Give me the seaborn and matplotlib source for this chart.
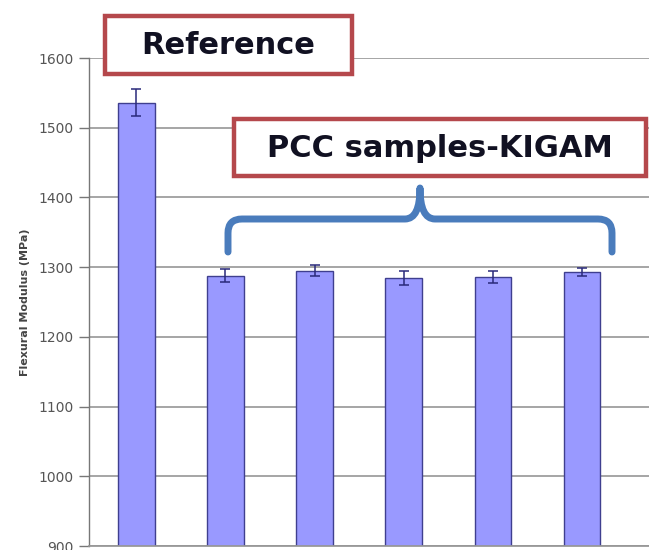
import numpy as np
import pandas as pd
import matplotlib
matplotlib.use("Agg")
import matplotlib.pyplot as plt
import seaborn as sns
from matplotlib.path import Path
from matplotlib.patches import PathPatch, Rectangle

# --- data --- #
samples = ["Reference", "PCC-1", "PCC-2", "PCC-3", "PCC-4", "PCC-5"]
modulus = [1536, 1288, 1295, 1285, 1286, 1293]
modulus_err = [19, 9, 8, 10, 9, 6]
y_ticks = [900, 1000, 1100, 1200, 1300, 1400, 1500, 1600]

df = pd.DataFrame({"sample": samples, "modulus": modulus, "err": modulus_err})

sns.set_theme(style="white")
plt.rcParams['font.family'] = ['DejaVu Sans']

W, H = 649, 550
fig = plt.figure(figsize=(W / 100, H / 100), dpi=100)
fig.patch.set_facecolor("white")

ax = fig.add_axes([89 / W, 4 / H, (W - 89) / W, 488 / H])
ax.set_facecolor("white")

sns.barplot(data=df, x="sample", y="modulus", color="#9999ff", saturation=1,
            width=0.41, edgecolor="#3f3f8f", linewidth=1.0, errorbar=None,
            ax=ax, zorder=2)
ax.errorbar(np.arange(len(samples)), df["modulus"], yerr=df["err"], fmt="none",
            ecolor="#2a2a7a", elinewidth=1.1, capsize=3.5, capthick=1.1, zorder=3)

ax.set_ylim(900, 1600)
ax.set_xlim(-0.53, 5.75)
ax.set_yticks(y_ticks)
ax.set_yticklabels([str(t) for t in y_ticks], color="#555555", fontsize=10)
ax.set_xticks([])
ax.set_xlabel("")
ax.set_ylabel("Flexural Modulus (MPa)", color="#444444", fontsize=8,
              fontweight="bold", labelpad=6)

ax.yaxis.grid(True, color="#969696", linewidth=1.2, zorder=0)
ax.set_axisbelow(True)
ax.tick_params(axis="y", direction="out", length=7, width=1, color="#777777",
               left=True, pad=4)
for side in ["top", "right"]:
    ax.spines[side].set_visible(False)
ax.spines["left"].set_color("#777777")
ax.spines["bottom"].set_color("#969696")
ax.spines["left"].set_linewidth(1.0)

# --- callout boxes and brace (figure pixel coords, from top) --- #
def fx(x):
    return x / W

def fy(y):
    return 1 - y / H

red = "#b5484c"
for (x0, y0, x1, y1, label) in [(105, 16, 352, 74, "Reference"),
                                (234, 119, 646, 176, "PCC samples-KIGAM")]:
    fig.patches.append(Rectangle((fx(x0), fy(y1)), fx(x1) - fx(x0), fy(y0) - fy(y1),
                                 transform=fig.transFigure, facecolor="white",
                                 edgecolor=red, linewidth=3.2, zorder=5))
    fig.text(fx((x0 + x1) / 2), fy((y0 + y1) / 2 + 1), label, ha="center", va="center",
             fontsize=22, fontweight="bold", color="#111122", zorder=6)

pts = [(228, 252), (228, 233), (228, 219), (242, 219), (405, 219),
       (420, 219), (420, 188), (420, 219), (435, 219), (598, 219),
       (612, 219), (612, 233), (612, 252)]
codes = [Path.MOVETO, Path.LINETO, Path.CURVE3, Path.CURVE3, Path.LINETO,
         Path.CURVE3, Path.CURVE3, Path.CURVE3, Path.CURVE3, Path.LINETO,
         Path.CURVE3, Path.CURVE3, Path.LINETO]
brace = Path([(fx(x), fy(y)) for x, y in pts], codes)
fig.patches.append(PathPatch(brace, transform=fig.transFigure, facecolor="none",
                             edgecolor="#4a7cbc", linewidth=5, capstyle="round",
                             joinstyle="round", zorder=5))

fig.savefig("out.png", dpi=100, facecolor="white")
